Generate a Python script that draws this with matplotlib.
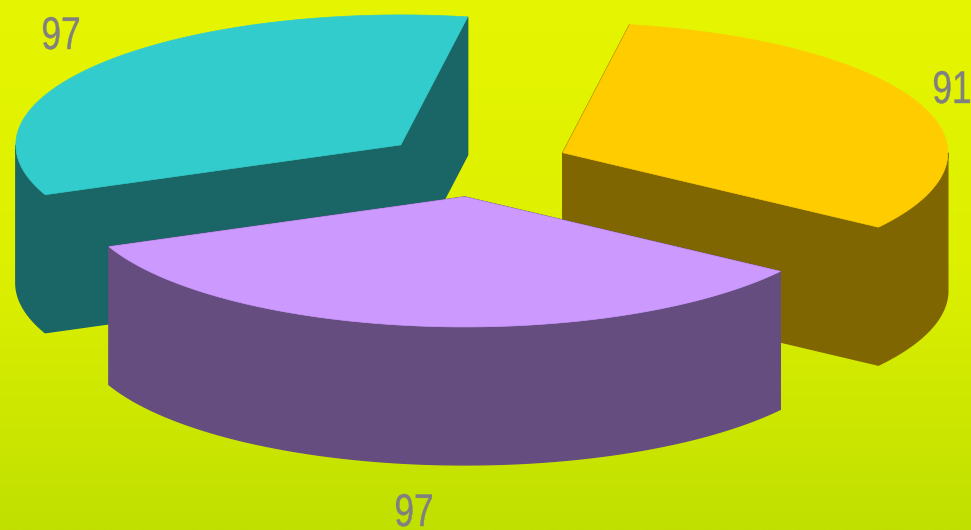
import numpy as np
import matplotlib
matplotlib.use('Agg')
import matplotlib.pyplot as plt
import matplotlib.patheffects as pe
from matplotlib.colors import LinearSegmentedColormap
from matplotlib.transforms import Affine2D

values = [91, 97, 97]
labels = ['91', '97', '97']
top_colors = ['#FFCC00', '#CC99FF', '#33CCCC']
side_colors = ['#806600', '#664D80', '#1A6666']
# yellow, purple, teal -> painter's order
draw_order = [2, 0, 1]

cx, cy = 475, 165
rx, ry = 385, 130
depth = 138
start = -80
explode = 0.247
label_pos = [(952, 91), (414, 514), (61, 37)]


# the labels in the reference are squeezed sideways and a bit heavier
class Squeeze(pe.AbstractPathEffect):
    def __init__(self, sx, x0):
        super().__init__()
        self.sx = sx
        self.x0 = x0

    def draw_path(self, renderer, gc, tpath, affine, rgbFace=None):
        aff = affine + Affine2D().translate(-self.x0, 0).scale(self.sx, 1).translate(self.x0, 0)
        gc0 = renderer.new_gc()
        gc0.copy_properties(gc)
        gc0.set_foreground('#808080')
        gc0.set_linewidth(0.3)
        renderer.draw_path(gc0, tpath, aff, rgbFace)
        gc0.restore()


fig = plt.figure(figsize=(9.71, 5.30), dpi=100)
ax = fig.add_axes([0, 0, 1, 1])
ax.set_xlim(0, 971)
ax.set_ylim(530, 0)
ax.axis('off')

bg = LinearSegmentedColormap.from_list('bg', ['#E6F500', '#DDF000', '#C0E000'])
ax.imshow(np.linspace(0, 1, 256).reshape(-1, 1), cmap=bg, extent=[0, 971, 530, 0],
          aspect='auto', zorder=0)

spans = np.array(values) / sum(values) * 360
starts = start + np.concatenate([[0], np.cumsum(spans)[:-1]])

for z, i in enumerate(draw_order):
    t0, t1 = starts[i], starts[i] + spans[i]
    mid = np.radians((t0 + t1) / 2)
    ax0 = cx + explode * rx * np.cos(mid)
    ay0 = cy + explode * ry * np.sin(mid)
    t = np.radians(np.linspace(t0, t1, 120))
    xs = ax0 + rx * np.cos(t)
    ys = ay0 + ry * np.sin(t)
    zb = 2 * z + 1
    # cut faces
    ax.fill([ax0, xs[0], xs[0], ax0], [ay0, ys[0], ys[0] + depth, ay0 + depth],
            color=side_colors[i], lw=1, zorder=zb)
    ax.fill([ax0, xs[-1], xs[-1], ax0], [ay0, ys[-1], ys[-1] + depth, ay0 + depth],
            color=side_colors[i], lw=1, zorder=zb)
    # outer wall, only the part facing the viewer
    tf = np.radians(np.linspace(max(t0, 0), min(t1, 180), 120))
    xf = ax0 + rx * np.cos(tf)
    yf = ay0 + ry * np.sin(tf)
    ax.fill(np.r_[xf, xf[::-1]], np.r_[yf, yf[::-1] + depth],
            color=side_colors[i], lw=1, zorder=zb)
    ax.fill(np.r_[ax0, xs], np.r_[ay0, ys], color=top_colors[i], lw=0.5, zorder=zb + 1)

for lab, (x, y) in zip(labels, label_pos):
    ax.text(x, y, lab, color='#808080', fontsize=33, ha='center', va='center',
            family='Liberation Sans', zorder=20,
            path_effects=[Squeeze(0.77, x)])

fig.savefig('out.png', dpi=100)
